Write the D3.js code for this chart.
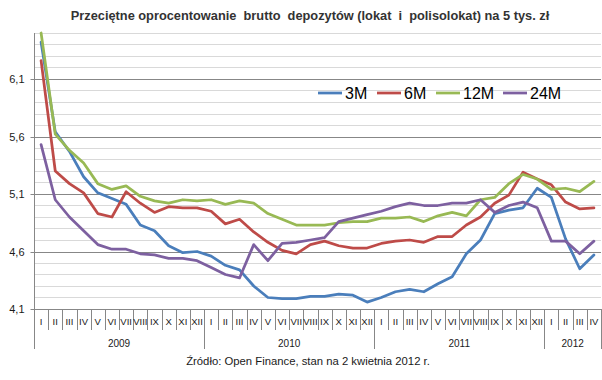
<!DOCTYPE html>
<html>
<head>
<meta charset="utf-8">
<script src="https://cdn.jsdelivr.net/npm/d3@7"></script>
<style>
  html, body { margin: 0; padding: 0; background: #ffffff; }
  svg { display: block; }
</style>
</head>
<body>
<script>
const title = "Przeciętne oprocentowanie  brutto  depozytów (lokat  i  polisolokat) na 5 tys. zł";
const source = "Źródło: Open Finance, stan na 2 kwietnia 2012 r.";
const monthLabels = ["I","II","III","IV","V","VI","VII","VIII","IX","X","XI","XII"];
const years = ["2009", "2010", "2011", "2012"];
const monthsPerYear = [12, 12, 12, 4];
const yTicks = [4.1, 4.6, 5.1, 5.6, 6.1];
const seriesNames = ["3M", "6M", "12M", "24M"];
const colors = ["#4a7ebb", "#be4b48", "#98b954", "#7d60a0"];

const s3M = [6.42, 5.64, 5.47, 5.25, 5.11, 5.06, 5.01, 4.83, 4.78, 4.65, 4.59, 4.60,
             4.56, 4.48, 4.44, 4.30, 4.20, 4.19, 4.19, 4.21, 4.21, 4.23, 4.22, 4.16,
             4.20, 4.25, 4.27, 4.25, 4.32, 4.38, 4.58, 4.70, 4.93, 4.96, 4.98, 5.15,
             5.07, 4.71, 4.45, 4.57];
const s6M = [6.26, 5.30, 5.19, 5.11, 4.93, 4.90, 5.12, 5.02, 4.94, 4.99, 4.98, 4.98,
             4.95, 4.84, 4.88, 4.77, 4.68, 4.61, 4.58, 4.66, 4.69, 4.65, 4.63, 4.63,
             4.67, 4.69, 4.70, 4.68, 4.73, 4.73, 4.83, 4.90, 5.02, 5.09, 5.29, 5.23,
             5.18, 5.03, 4.97, 4.98];
const s12M = [6.50, 5.62, 5.48, 5.37, 5.19, 5.14, 5.17, 5.08, 5.04, 5.02, 5.05, 5.04,
              5.05, 5.01, 5.04, 5.02, 4.93, 4.88, 4.83, 4.83, 4.83, 4.85, 4.86, 4.86,
              4.89, 4.89, 4.90, 4.86, 4.91, 4.94, 4.91, 5.05, 5.07, 5.19, 5.27, 5.23,
              5.14, 5.15, 5.12, 5.21];
const s24M = [5.53, 5.05, 4.90, 4.78, 4.66, 4.62, 4.62, 4.58, 4.57, 4.54, 4.54, 4.52,
              4.46, 4.40, 4.37, 4.66, 4.52, 4.67, 4.68, 4.70, 4.72, 4.86, 4.89, 4.92,
              4.95, 4.99, 5.02, 5.00, 5.00, 5.02, 5.02, 5.05, 4.94, 5.00, 5.03, 4.98,
              4.69, 4.69, 4.58, 4.69];
const allSeries = [s3M, s6M, s12M, s24M];

const W = 602, H = 380;
const pLeft = 34, pRight = 601, pTop = 33, pBottom = 309;

const svg = d3.select("body").append("svg").attr("width", W).attr("height", H);

const months = [];
years.forEach((yr, yi) => { for (let m = 0; m < monthsPerYear[yi]; m++) months.push(monthLabels[m]); });
const idx = d3.range(months.length);

const x = d3.scaleBand().domain(idx).range([pLeft, pRight]).paddingInner(0).paddingOuter(0);
const y = d3.scaleLinear().domain([4.1, 6.5]).range([pBottom, pTop]);

// gridlines
const minor = d3.range(42, 66).map(v => v / 10);
svg.append("g").selectAll("line").data(minor).join("line")
  .attr("x1", pLeft).attr("x2", pRight)
  .attr("y1", d => Math.round(y(d)) + 0.5).attr("y2", d => Math.round(y(d)) + 0.5)
  .attr("stroke", d => yTicks.some(t => Math.abs(t - d) < 1e-6) ? "#878787" : "#d9d9d9")
  .attr("stroke-width", 1);

// y axis
const yAxis = d3.axisLeft(y).tickValues(yTicks).tickSize(4).tickPadding(5)
  .tickFormat(d => d3.format(".1f")(d).replace(".", ","));
const ya = svg.append("g").attr("transform", `translate(${pLeft + 0.5},0)`).call(yAxis);
ya.select(".domain").attr("stroke", "#878787").attr("d", `M0,${pTop}V349`);
ya.selectAll(".tick line").attr("stroke", "#878787");
ya.selectAll(".tick").attr("transform", d => `translate(0,${Math.round(y(d)) + 0.5})`);
ya.selectAll(".tick text").attr("font-family", "'Liberation Sans', Arial, sans-serif")
  .attr("font-size", 11).attr("fill", "#1a1a1a").attr("x", -10);

// x axis line
svg.append("line").attr("x1", pLeft).attr("x2", pRight)
  .attr("y1", pBottom + 0.5).attr("y2", pBottom + 0.5).attr("stroke", "#878787");

// month separators
const bounds = d3.range(months.length + 1);
const yearStarts = [0];
monthsPerYear.forEach((n, i) => yearStarts.push(yearStarts[i] + n));
svg.append("g").selectAll("line").data(bounds).join("line")
  .attr("x1", d => Math.round(pLeft + d * x.bandwidth()) + 0.5)
  .attr("x2", d => Math.round(pLeft + d * x.bandwidth()) + 0.5)
  .attr("y1", pBottom)
  .attr("y2", d => yearStarts.includes(d) ? 349 : 330)
  .attr("stroke", "#878787");

// month labels
svg.append("g").selectAll("text").data(idx).join("text")
  .attr("x", d => x(d) + x.bandwidth() / 2).attr("y", 325)
  .attr("text-anchor", "middle")
  .attr("font-family", "'Liberation Sans', Arial, sans-serif").attr("font-size", 9.5)
  .attr("fill", "#1a1a1a")
  .text(d => months[d]);

// year labels
svg.append("g").selectAll("text").data(years).join("text")
  .attr("x", (d, i) => pLeft + (yearStarts[i] + yearStarts[i + 1]) / 2 * x.bandwidth())
  .attr("y", 347).attr("text-anchor", "middle")
  .attr("font-family", "'Liberation Sans', Arial, sans-serif").attr("font-size", 10)
  .attr("fill", "#1a1a1a")
  .text(d => d);

// lines
const line = d3.line().x((d, i) => x(i) + x.bandwidth() / 2).y(d => y(d));
svg.append("g").selectAll("path").data(allSeries).join("path")
  .attr("d", line).attr("fill", "none")
  .attr("stroke", (d, i) => colors[i]).attr("stroke-width", 2.75)
  .attr("stroke-linejoin", "round").attr("stroke-linecap", "round");

// legend
const legendX = [318, 377, 436, 503];
const lg = svg.append("g").selectAll("g").data(seriesNames).join("g")
  .attr("transform", (d, i) => `translate(${legendX[i]},93)`);
lg.append("line").attr("x1", 0).attr("x2", 24).attr("y1", 0).attr("y2", 0)
  .attr("stroke", (d, i) => colors[i]).attr("stroke-width", 2.75);
lg.append("text").attr("x", 27).attr("y", 5.8)
  .attr("font-family", "'Liberation Sans', Arial, sans-serif").attr("font-size", 16)
  .attr("fill", "#000").text(d => d);

// title
svg.append("text").attr("x", 310).attr("y", 20).attr("text-anchor", "middle")
  .attr("font-family", "'Liberation Sans', Arial, sans-serif").attr("font-size", 12.8)
  .attr("font-weight", "bold").attr("fill", "#333")
  .attr("xml:space", "preserve").style("white-space", "pre")
  .text(title);

// source
svg.append("text").attr("x", 308).attr("y", 365).attr("text-anchor", "middle")
  .attr("font-family", "'Liberation Sans', Arial, sans-serif").attr("font-size", 11.3)
  .attr("fill", "#1a1a1a")
  .text(source);
</script>
</body>
</html>
